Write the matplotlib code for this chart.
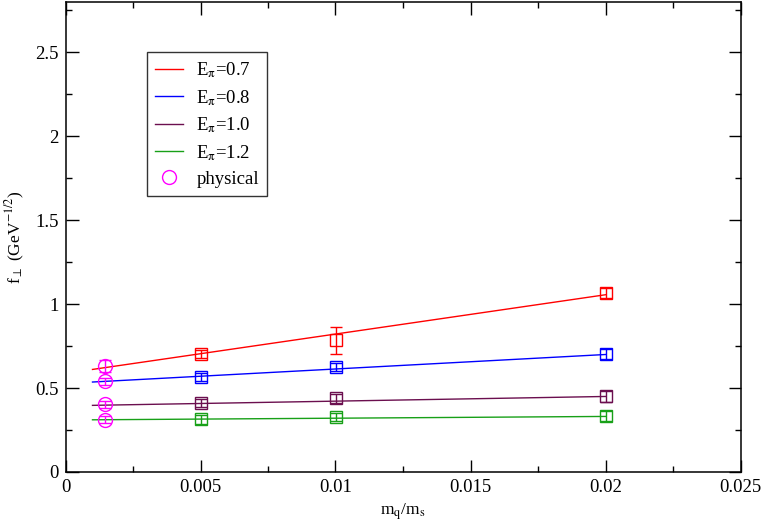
import matplotlib
matplotlib.use("Agg")
import matplotlib.pyplot as plt
from matplotlib.ticker import MultipleLocator, FuncFormatter

plt.rcParams['font.family'] = ['Liberation Serif', 'DejaVu Serif']
plt.rcParams['mathtext.fontset'] = 'stix'

# data
x_lattice = [0.005, 0.01, 0.02]
x_phys = 0.00147
fit_x = [0.001, 0.02]

labels = ['0.7', '0.8', '1.0', '1.2']
colors = ['#ff0000', '#0000ff', '#6b0f4f', '#18a018']

y_07 = [0.704, 0.785, 1.064]
e_07 = [0.025, 0.08, 0.03]
y_08 = [0.565, 0.627, 0.704]
e_08 = [0.025, 0.025, 0.03]
y_10 = [0.4125, 0.439, 0.450]
e_10 = [0.025, 0.025, 0.03]
y_12 = [0.313, 0.329, 0.3315]
e_12 = [0.025, 0.025, 0.03]

fit_07 = [0.611, 1.056]
fit_08 = [0.536, 0.700]
fit_10 = [0.397, 0.450]
fit_12 = [0.311, 0.331]

phys_y = [0.631, 0.540, 0.403, 0.311]
phys_e = [0.036, 0.02, 0.02, 0.02]

series = [y_07, y_08, y_10, y_12]
errs = [e_07, e_08, e_10, e_12]
fits = [fit_07, fit_08, fit_10, fit_12]

fig = plt.figure(figsize=(7.63, 5.26), dpi=100)
ax = fig.add_axes([65.5/763, 1-472/526, (740.5-65.5)/763, (472-2)/526])

for lab, c, ys, es, fy in zip(labels, colors, series, errs, fits):
    ax.plot(fit_x, fy, '-', color=c, lw=1.0, label=r'E$_{\mathrm{π}}$=' + lab, zorder=2)
    ax.errorbar(x_lattice, ys, yerr=es, fmt='s', mfc='none', mec=c, ecolor=c,
                ms=8.5, mew=1.0, elinewidth=1.0, capsize=4.5, capthick=1.0, zorder=3)

ax.errorbar([x_phys]*4, phys_y, yerr=phys_e, fmt='o', mfc='none', mec='#ff00ff',
            ecolor='#ff00ff', ms=10, mew=1.0, elinewidth=1.0, capsize=4.5,
            capthick=1.0, zorder=4)
ax.plot([], [], 'o', mfc='none', mec='#ff00ff', ms=10, mew=1.0, label='physical')

ax.set_xlim(0, 0.025)
ax.set_ylim(0, 2.8)
ax.xaxis.set_major_locator(MultipleLocator(0.005))
ax.xaxis.set_minor_locator(MultipleLocator(0.0025))
ax.yaxis.set_major_locator(MultipleLocator(0.5))
ax.yaxis.set_minor_locator(MultipleLocator(0.25))
ax.tick_params(which='both', direction='in', top=True, right=True, width=1.0,
               labelsize=13.5, pad=5)
ax.tick_params(which='major', length=9)
ax.tick_params(which='minor', length=4.5)
for s in ax.spines.values():
    s.set_linewidth(1.1)

ax.xaxis.set_major_formatter(FuncFormatter(lambda v, p: ('%g' % v)))
ax.yaxis.set_major_formatter(FuncFormatter(lambda v, p: ('%g' % v)))

ax.set_xlabel(r'm$_\mathrm{q}$/m$_\mathrm{s}$', fontsize=12.5, labelpad=4)
ax.set_ylabel(r'f$_\perp$ (GeV$^{-1/2}$)', fontsize=12.5, labelpad=6)

leg = ax.legend(loc='upper left', bbox_to_anchor=(0.1203, 0.894), borderaxespad=0,
                fontsize=13.5, frameon=True, fancybox=False, handlelength=1.5,
                handletextpad=0.7, labelspacing=0.42, borderpad=0.45)
leg.get_frame().set_edgecolor('black')
leg.get_frame().set_linewidth(1.0)

fig.savefig('out.png', dpi=100)
